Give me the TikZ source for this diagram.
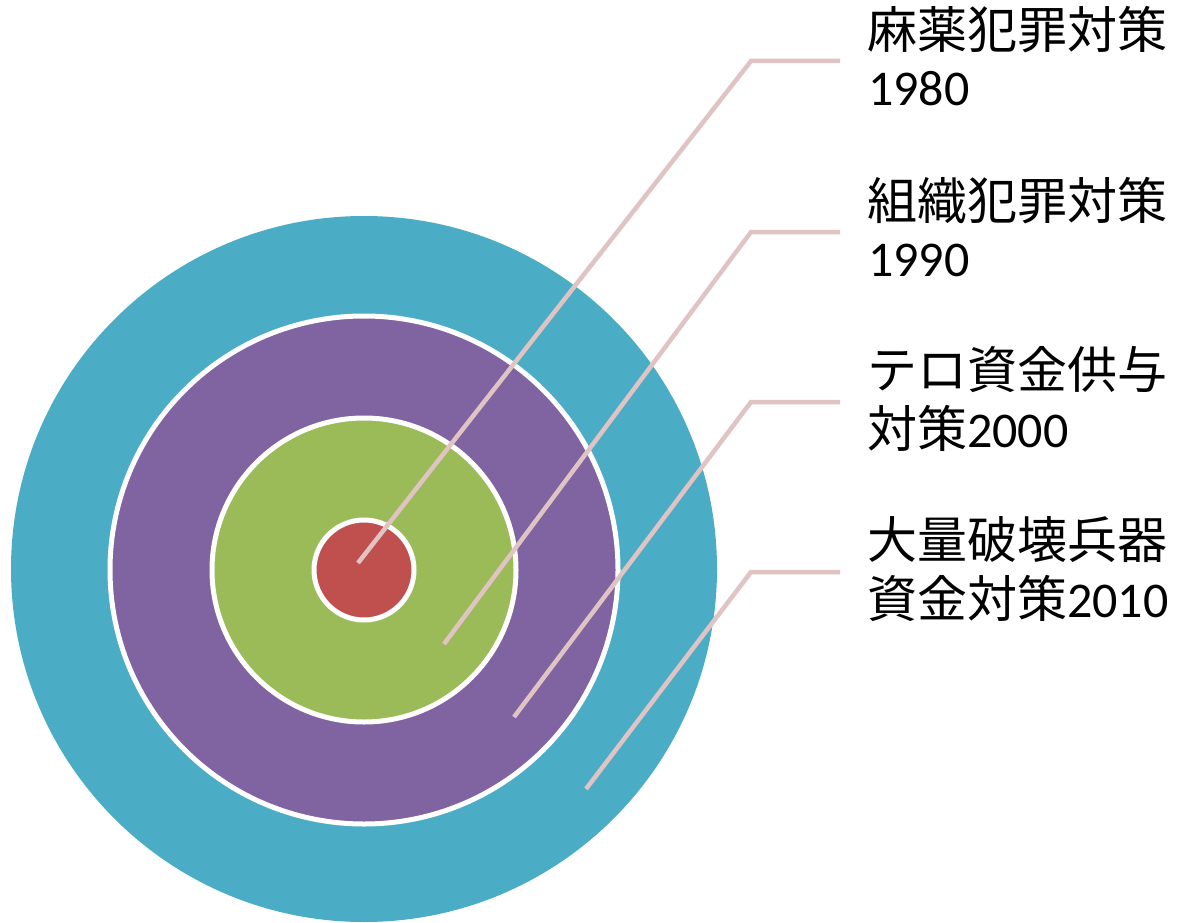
\documentclass[tikz,border=0pt]{standalone}
\usepackage{fontspec}
\newfontfamily\cjk{Noto Sans CJK JP}
\newfontfamily\lat{Carlito}
\definecolor{teal1}{HTML}{4BACC6}
\definecolor{purp1}{HTML}{8064A2}
\definecolor{green1}{HTML}{9BBB59}
\definecolor{red1}{HTML}{C0504D}
\definecolor{pink1}{HTML}{E0C3C3}
\begin{document}
\begin{tikzpicture}[x=1pt,y=-1pt,
  ring/.style={circle,draw=white,line width=5pt,inner sep=0pt,minimum size=#1},
  leader/.style={draw=pink1,line width=4.5pt},
  lbl/.style={anchor=base west,inner sep=0pt,font=\fontsize{50}{58}\selectfont}]
\useasboundingbox (0,0) rectangle (1178,923);
\node[ring=706pt,fill=teal1,draw=none] (c4) at (364,569) {};
\node[ring=508pt,fill=purp1] (c3) at (364,570) {};
\node[ring=304pt,fill=green1] (c2) at (364,570) {};
\node[ring=100pt,fill=red1] (c1) at (364,570) {};
% leader endpoints
\coordinate (s1) at (358,563);
\coordinate (s2) at (444,644);
\coordinate (s3) at (514,717);
\coordinate (s4) at (586,789);
\coordinate (e1) at (751,61);
\coordinate (e2) at (751,232);
\coordinate (e3) at (751,402);
\coordinate (e4) at (751,572);
\coordinate (t1) at (840,61);
\coordinate (t2) at (840,232);
\coordinate (t3) at (840,402);
\coordinate (t4) at (840,572);
\draw[leader] (s1) -- (e1) -- (t1);
\draw[leader] (s2) -- (e2) -- (t2);
\draw[leader] (s3) -- (e3) -- (t3);
\draw[leader] (s4) -- (e4) -- (t4);
% labels
\node[lbl] (l1a) at (867,49) {\cjk 麻薬犯罪対策};
\node[lbl] (l1b) at (868,106) {\lat 1980};
\node[lbl] (l2a) at (867,219) {\cjk 組織犯罪対策};
\node[lbl] (l2b) at (868,276) {\lat 1990};
\node[lbl] (l3a) at (867,388) {\cjk テロ資金供与};
\node[lbl] (l3b) at (867,447) {{\cjk 対策}{\lat 2000}};
\node[lbl] (l4a) at (867,558) {\cjk 大量破壊兵器};
\node[lbl] (l4b) at (867,617) {{\cjk 資金対策}{\lat 2010}};
\end{tikzpicture}
\end{document}
